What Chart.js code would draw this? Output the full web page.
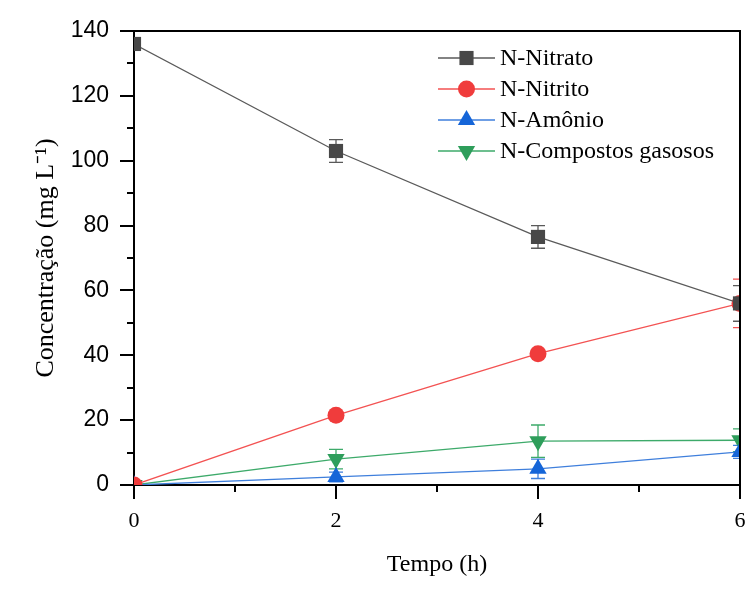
<!DOCTYPE html>
<html>
<head>
<meta charset="utf-8">
<script src="https://cdn.jsdelivr.net/npm/chart.js@4.4.1/dist/chart.umd.min.js"></script>
<style>
  html, body { margin: 0; padding: 0; background: #fff; }
  canvas { display: block; }
</style>
</head>
<body>
<canvas id="nChart" width="746" height="603"></canvas>
<script>
// tempo (h) e concentrações (mg L-1)
const tempo = [0, 2, 4, 6];
const nitrato = [136, 103, 76.5, 56];
const nitratoErr = [1.5, 3.5, 3.5, 5.5];
const nitrito = [0, 21.5, 40.5, 56];
const nitritoErr = [0, 1, 1, 7.5];
const amonio = [0, 2.5, 5, 10.2];
const amonioErr = [0, 1.5, 3, 2];
const gasosos = [0, 8, 13.5, 13.8];
const gasososErr = [0, 3, 5, 3.5];

const nomes = ['N-Nitrato', 'N-Nitrito', 'N-Amônio', 'N-Compostos gasosos'];
const yTicks = [0, 20, 40, 60, 80, 100, 120, 140];

const SERIF = '"Liberation Serif", "Times New Roman", serif';

function pts(vals) {
    return tempo.map((t, i) => ({ x: t, y: vals[i] }));
}

function serie(label, vals, err, line, fill, style, rot, r) {
    return {
        label: label,
        data: pts(vals),
        errors: err,
        borderColor: line,
        backgroundColor: fill,
        pointBackgroundColor: fill,
        pointBorderColor: fill,
        pointBorderWidth: 0,
        pointStyle: style,
        pointRotation: rot,
        pointRadius: r,
        borderWidth: 1.3,
        errColor: line,
        tension: 0,
        clip: 0
    };
}

// barras de erro + legenda + moldura e ticks menores
const extras = {
    id: 'extras',
    beforeDatasetsDraw(chart) {
        const { ctx, chartArea: a, scales: { x, y } } = chart;
        ctx.save();
        ctx.beginPath();
        ctx.rect(a.left, a.top, a.right - a.left, a.bottom - a.top);
        ctx.clip();
        chart.data.datasets.forEach(ds => {
            ctx.strokeStyle = ds.errColor;
            ctx.lineWidth = 1.3;
            ds.data.forEach((p, i) => {
                const e = ds.errors[i];
                if (!e) return;
                const px = x.getPixelForValue(p.x);
                const y1 = y.getPixelForValue(p.y + e);
                const y2 = y.getPixelForValue(p.y - e);
                ctx.beginPath();
                ctx.moveTo(px, y1); ctx.lineTo(px, y2);
                ctx.moveTo(px - 7, y1); ctx.lineTo(px + 7, y1);
                ctx.moveTo(px - 7, y2); ctx.lineTo(px + 7, y2);
                ctx.stroke();
            });
        });
        ctx.restore();
    },
    afterDraw(chart) {
        const { ctx, chartArea: a, scales: { x, y } } = chart;
        ctx.save();
        ctx.strokeStyle = '#000';
        ctx.lineWidth = 2;
        // topo e direita
        ctx.beginPath();
        ctx.moveTo(a.left, a.top); ctx.lineTo(a.right, a.top); ctx.lineTo(a.right, a.bottom);
        ctx.stroke();
        // ticks menores
        ctx.beginPath();
        for (let v = 10; v < 140; v += 20) {
            const py = Math.round(y.getPixelForValue(v));
            ctx.moveTo(a.left - 7, py); ctx.lineTo(a.left, py);
        }
        for (let v = 1; v < 6; v += 2) {
            const px = Math.round(x.getPixelForValue(v));
            ctx.moveTo(px, a.bottom); ctx.lineTo(px, a.bottom + 7);
        }
        ctx.stroke();

        // legenda
        const lx0 = 438, lx1 = 495, ly0 = 58, dy = 31;
        ctx.font = '24px ' + SERIF;
        ctx.textBaseline = 'middle';
        ctx.textAlign = 'left';
        chart.data.datasets.forEach((ds, i) => {
            const ly = ly0 + i * dy;
            ctx.strokeStyle = ds.borderColor;
            ctx.lineWidth = 1.3;
            ctx.beginPath();
            ctx.moveTo(lx0, ly); ctx.lineTo(lx1, ly);
            ctx.stroke();
            ctx.fillStyle = ds.backgroundColor;
            ctx.strokeStyle = ds.backgroundColor;
            Chart.helpers.drawPoint(ctx, {
                pointStyle: ds.pointStyle,
                rotation: ds.pointRotation,
                radius: ds.pointRadius,
                borderWidth: 0
            }, (lx0 + lx1) / 2, ly);
            ctx.fillStyle = '#000';
            ctx.fillText(ds.label, 500, ly + 1);
        });
        ctx.restore();
    }
};

new Chart(document.getElementById('nChart'), {
    type: 'line',
    data: {
        datasets: [
            serie(nomes[0], nitrato, nitratoErr, '#5a5a5a', '#484848', 'rect', 0, 10),
            serie(nomes[1], nitrito, nitritoErr, '#f35252', '#f03c3c', 'circle', 0, 8.5),
            serie(nomes[2], amonio, amonioErr, '#3f7fdc', '#1565d8', 'triangle', 0, 10),
            serie(nomes[3], gasosos, gasososErr, '#3daa6a', '#2e9e5b', 'triangle', 180, 10)
        ]
    },
    options: {
        responsive: false,
        animation: false,
        layout: { autoPadding: false, padding: { left: 0, right: 6, top: 31, bottom: 0 } },
        plugins: {
            legend: { display: false },
            tooltip: { enabled: false }
        },
        scales: {
            x: {
                type: 'linear',
                min: 0,
                max: 6,
                ticks: {
                    stepSize: 2,
                    padding: 9,
                    color: '#000',
                    font: { family: SERIF, size: 22 }
                },
                grid: { drawOnChartArea: false, drawTicks: true, tickLength: 14, color: '#000', lineWidth: 2 },
                border: { display: true, color: '#000', width: 2 },
                title: {
                    display: true,
                    text: 'Tempo (h)',
                    color: '#000',
                    padding: { top: 0, bottom: 24 },
                    font: { family: SERIF, size: 24 }
                },
                afterFit(scale) {
                    scale.height = 118;
                    scale.paddingRight = 0;
                    scale.paddingLeft = 0;
                }
            },
            y: {
                min: 0,
                max: 140,
                afterBuildTicks(scale) { scale.ticks = yTicks.map(v => ({ value: v })); },
                ticks: {
                    padding: 11,
                    color: '#000',
                    font: { family: '"Liberation Sans", Arial, sans-serif', size: 23 }
                },
                grid: { drawOnChartArea: false, drawTicks: true, tickLength: 14, color: '#000', lineWidth: 2 },
                border: { display: true, color: '#000', width: 2 },
                title: {
                    display: true,
                    text: 'Concentração (mg L⁻¹)',
                    color: '#000',
                    padding: { top: 31, bottom: 0 },
                    font: { family: SERIF, size: 26 }
                },
                afterFit(scale) {
                    scale.width = 134;
                    scale.paddingTop = 0;
                    scale.paddingBottom = 0;
                }
            }
        }
    },
    plugins: [extras]
});
</script>
</body>
</html>
